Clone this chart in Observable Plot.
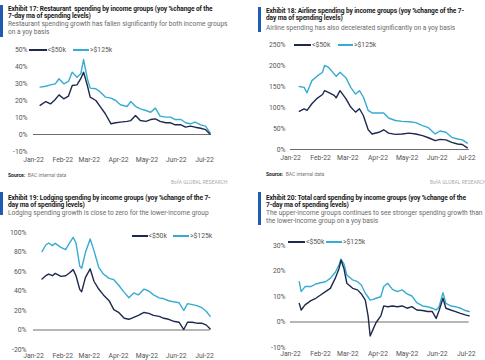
<!DOCTYPE html>
<html><head><meta charset="utf-8">
<script src="https://cdn.jsdelivr.net/npm/d3@7"></script>
<script src="https://cdn.jsdelivr.net/npm/@observablehq/plot@0.6"></script>
<style>
body{margin:0;width:485px;height:360px;overflow:hidden;background:#fff;font-family:Roboto,"Liberation Sans",sans-serif;position:relative}
.abs{position:absolute;white-space:nowrap}
.bar{position:absolute;background:#1f5bb0;width:3px}
.title{font-weight:700;font-size:6.6px;line-height:7px;color:#1a1a1a;letter-spacing:-0.1px}
.sub{font-size:6.6px;line-height:8px;color:#6a6a6a}
.src{font-size:5px;color:#777}
.src b{color:#222}
.bofa{font-size:4.8px;color:#aaa;letter-spacing:0.1px}
.legtxt{font-size:6.8px;color:#555;line-height:8px}
.sw{position:absolute;height:1.6px}
</style></head><body>
<script>
const navy = "#1d2a4d", cyan = "#36acd2";
const seriesNames = ["<$50k", ">$125k"];
const monthTicks = ["01-01","02-01","03-01","04-01","05-01","06-01","07-01"];

// Exhibit 17: Restaurant
const restDates = ["01-08","01-14","01-19","01-24","01-28","02-02","02-07","02-11","02-16","02-20","02-23","02-27","03-02","03-08","03-13","03-18","03-24","03-29","04-03","04-10","04-14","04-19","04-24","04-30","05-05","05-10","05-15","05-21","05-26","05-31","06-06","06-11","06-16","06-21","06-27","07-02","07-07"];
const restLow = [17.1,19.4,18.0,20.6,23.3,21.0,22.6,28.8,29.2,32.8,36.7,28.8,22.0,20.0,16.1,12.2,6.3,6.9,7.3,7.7,8.2,11.2,8.2,7.7,8.8,9.2,7.7,6.9,6.9,5.7,5.7,4.3,4.9,4.3,3.7,2.9,0.2];
const restHigh = [27.9,28.4,29.2,29.8,32.8,29.8,31.2,36.7,33.7,35.7,44.1,32.8,27.3,26.9,24.9,22.0,21.4,20.0,17.5,16.5,19.4,16.5,15.1,14.1,13.1,15.5,10.8,10.2,10.2,8.8,8.8,6.9,6.3,7.3,5.7,4.9,1.0];

// Exhibit 18: Airline
const airDates = ["01-10","01-15","01-18","01-23","01-28","02-03","02-05","02-09","02-15","02-17","02-21","02-27","03-04","03-09","03-13","03-17","03-22","03-26","04-02","04-07","04-12","04-19","04-26","05-03","05-10","05-17","05-23","05-30","06-04","06-10","06-16","06-22","06-27","07-02"];
const airLow = [91,97,93,109,121,131,140,136,129,123,140,121,101,89,97,81,47,37,41,47,39,36,37,39,37,33,28,21,24,23,17,13,12,4];
const airHigh = [150,148,135,164,174,184,200,196,180,174,184,171,148,132,140,125,93,87,87,87,75,69,67,66,64,57,52,37,44,41,29,25,23,15];

// Exhibit 19: Lodging
const lodgDates = ["01-10","01-14","01-17","01-21","01-24","01-30","02-04","02-08","02-12","02-15","02-19","02-21","02-25","03-02","03-06","03-11","03-16","03-22","03-27","04-01","04-07","04-12","04-17","04-22","04-28","05-03","05-08","05-14","05-19","05-24","05-29","06-04","06-09","06-13","06-18","06-23","06-28","07-03","07-07"];
const lodgLow = [52.3,55.7,57.4,55.7,58.1,55.0,55.7,58.5,61.9,55.7,41.4,39.3,54.0,62.6,50,42,36,30.1,20.9,18.1,12,11,13,15,18,17,15,14,12,11,9,8,0.5,8,8,7,7,5,1];
const lodgHigh = [80.4,87.2,89.2,86.5,88.9,84.8,82.4,89.2,95.1,89.2,65.3,63.3,79.7,93.3,81.4,64.3,57.4,53.0,51.6,46.2,38.6,33,38,36,42,40,36,33,32,30,29,28,20,27,26,25,23,19,14];

// Exhibit 20: Total card
const cardDates = ["01-10","01-12","01-16","01-22","01-27","02-01","02-06","02-11","02-16","02-20","02-22","02-25","02-28","03-06","03-11","03-15","03-19","03-22","03-24","03-27","03-30","04-04","04-07","04-11","04-16","04-21","04-26","05-01","05-06","05-11","05-17","05-22","05-27","05-31","06-03","06-07","06-10","06-15","06-20","06-25","06-30","07-04"];
const cardLow = [7.3,4.7,6.7,8.4,9.3,10.6,11.9,13.2,17.1,21.0,24.3,21.0,15.2,13.2,12.6,11.0,8.6,2.1,-5.5,-2.9,-0.3,2.4,6.3,6.0,6.3,6.0,6.3,5.4,6.0,4.7,4.5,4.1,4.1,1.4,4.5,9.3,5.4,4.7,4.1,3.4,2.8,2.4];
const cardHigh = [15.8,11.9,13.9,13.9,14.9,15.4,15.8,17.1,19.4,22.4,24.6,22.8,18.4,16.5,15.8,14.5,11.3,9.7,8.6,8.9,9.3,9.9,13.9,15.2,12.8,11.9,12.6,11.0,10.2,7.6,6.3,6.0,5.4,4.7,6.0,11.5,7.3,6.3,6.0,5.4,4.5,4.1];

const toDate = s => new Date("2022-" + s + "T00:00:00Z");

function addDiv(cls, left, top, html) {
  const d = document.createElement("div");
  d.className = "abs " + cls;
  d.style.left = left + "px"; d.style.top = top + "px";
  d.innerHTML = html;
  document.body.appendChild(d);
  return d;
}
function addBar(left, top, h) {
  const d = document.createElement("div");
  d.className = "bar"; d.style.left = left + "px"; d.style.top = top + "px"; d.style.height = h + "px";
  document.body.appendChild(d);
}
function legend(y, x1, x2, x3, x4, w1, w2) {
  const items = [[x1, w1, navy, x2, seriesNames[0]], [x3, w2, cyan, x4, seriesNames[1]]];
  for (const [sx, sw, col, tx, label] of items) {
    const s = document.createElement("div");
    s.className = "sw"; s.style.left = sx + "px"; s.style.top = (y - 0.8) + "px"; s.style.width = sw + "px"; s.style.background = col;
    document.body.appendChild(s);
    addDiv("legtxt", tx, y - 4, label.replace("<", "&lt;").replace(">", "&gt;"));
  }
}
function panel(o) {
  const data = [];
  o.dates.forEach((d, i) => data.push({date: toDate(d), v: o.high[i], s: seriesNames[1]}));
  o.dates.forEach((d, i) => data.push({date: toDate(d), v: o.low[i], s: seriesNames[0]}));
  const chart = Plot.plot({
    width: o.width, height: o.height,
    marginTop: o.mt, marginBottom: o.mb, marginLeft: o.ml, marginRight: o.mr,
    style: {fontFamily: "Roboto, sans-serif", fontSize: "6.8px", color: "#555", background: "transparent", overflow: "visible"},
    x: {type: "utc", domain: [toDate("01-01"), toDate(o.xEnd)], ticks: monthTicks.map(toDate), tickFormat: d3.utcFormat("%b-%y"), tickSize: 0, tickPadding: o.xPad, label: null},
    y: {domain: [o.yTicks[0], o.yTicks[o.yTicks.length - 1]], ticks: o.yTicks, tickFormat: d => d + "%", tickSize: 0, tickPadding: o.yPad, label: null},
    color: {domain: seriesNames, range: [navy, cyan]},
    marks: [
      Plot.ruleY([0], {stroke: "#6e6e6e", strokeWidth: 1}),
      Plot.line(data, {x: "date", y: "v", z: "s", stroke: "s", strokeWidth: 1.4})
    ]
  });
  chart.style.position = "absolute";
  chart.style.left = o.left + "px";
  chart.style.top = o.top + "px";
  document.body.appendChild(chart);
}

// Panel 1
panel({left: 0, top: 0, width: 242, height: 185, mt: 49, mb: 34, ml: 33, mr: 32.3, xEnd: "07-07", yTicks: [-10,0,10,20,30,40,50], yPad: 6, xPad: 6, dates: restDates, low: restLow, high: restHigh});
addBar(0, 5, 32);
addDiv("title", 8, 5.5, "Exhibit 17: Restaurant&nbsp; spending by income groups (yoy %change of the<br>7-day ma of spending levels)");
addDiv("sub", 8, 20, "Restaurant spending growth has fallen significantly for both income groups<br>on a yoy basis");
legend(50, 29, 47.5, 73, 90, 18, 16);
addDiv("src", 8, 172, "<b>Source:</b>&nbsp; BAC internal data");
addDiv("bofa", 171, 180, "BofA GLOBAL RESEARCH");

// Panel 2
panel({left: 242, top: 0, width: 243, height: 185, mt: 44, mb: 36, ml: 48, mr: 16.3, xEnd: "07-04", yTicks: [0,50,100,150,200,250], yPad: 5, xPad: 6, dates: airDates, low: airLow, high: airHigh});
addBar(258, 7, 25);
addDiv("title", 266, 7.5, "Exhibit 18: Airline spending by income groups (yoy %change of the 7-<br>day ma of spending levels)");
addDiv("sub", 266, 24, "Airline spending has also decelerated significantly on a yoy basis");
legend(45, 294, 312, 338, 354, 17, 15);
addDiv("src", 266, 171, "<b>Source:</b>&nbsp; BAC internal data");
addDiv("bofa", 430, 180, "BofA GLOBAL RESEARCH");

// Panel 3
panel({left: 0, top: 180, width: 242, height: 180, mt: 52, mb: 11, ml: 33, mr: 32.3, xEnd: "07-07", yTicks: [-20,0,20,40,60,80,100], yPad: 7, xPad: 3.5, dates: lodgDates, low: lodgLow, high: lodgHigh});
addBar(0, 192, 23);
addDiv("title", 8, 194.5, "Exhibit 19: Lodging spending by income groups (yoy %change of the 7-<br>day ma of spending levels)");
addDiv("sub", 8, 209, "Lodging spending growth is close to zero for the lower-income group");
legend(236, 132, 148.5, 173, 190, 16, 16);

// Panel 4
panel({left: 242, top: 180, width: 243, height: 180, mt: 65, mb: 13, ml: 48, mr: 16.3, xEnd: "07-04", yTicks: [-10,0,10,20,30], yPad: 5, xPad: 4, dates: cardDates, low: cardLow, high: cardHigh});
addBar(258, 192, 33);
addDiv("title", 266, 194.5, "Exhibit 20: Total card spending by income groups (yoy %change of the<br>7-day ma of spending levels)");
addDiv("sub", 266, 209, "The upper-income groups continues to see stronger spending growth than<br>the lower-income group on a yoy basis");
legend(242, 288, 306, 326, 343, 17, 16);
</script>
</body></html>
